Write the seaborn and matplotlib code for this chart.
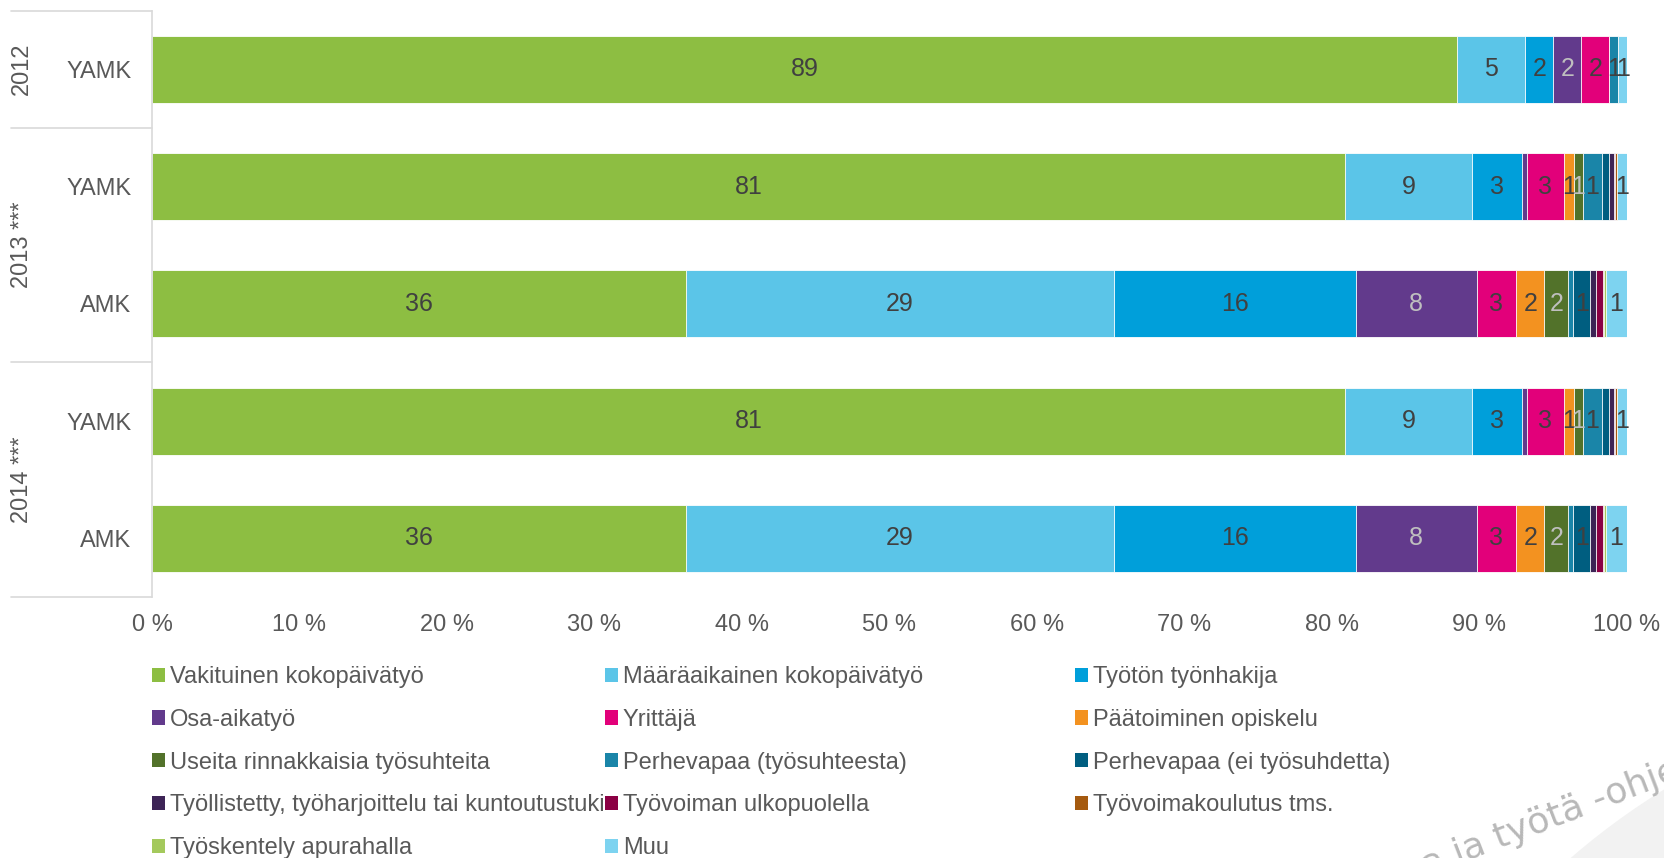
import numpy as np
import pandas as pd
import seaborn as sns
import matplotlib.pyplot as plt
from matplotlib.patches import Rectangle, Ellipse

sns.set_theme(style="white")
plt.rcParams['font.family'] = ['Liberation Sans', 'DejaVu Sans']

# rows top to bottom
groups = ["2012", "2013 ***", "2014 ***"]
group_rows = [[0], [1, 2], [3, 4]]
row_labels = ["YAMK", "YAMK", "AMK", "YAMK", "AMK"]

categories = ["Vakituinen kokopäivätyö", "Määräaikainen kokopäivätyö", "Työtön työnhakija",
              "Osa-aikatyö", "Yrittäjä", "Päätoiminen opiskelu",
              "Useita rinnakkaisia työsuhteita", "Perhevapaa (työsuhteesta)", "Perhevapaa (ei työsuhdetta)",
              "Työllistetty, työharjoittelu tai kuntoutustuki", "Työvoiman ulkopuolella", "Työvoimakoulutus tms.",
              "Työskentely apurahalla", "Muu"]

vakituinen   = [88.5, 80.9, 36.2, 80.9, 36.2]
maaraaik     = [4.6, 8.6, 29.0, 8.6, 29.0]
tyoton       = [1.9, 3.4, 16.4, 3.4, 16.4]
osa_aika     = [1.9, 0.3, 8.2, 0.3, 8.2]
yrittaja     = [1.9, 2.5, 2.7, 2.5, 2.7]
paatoim      = [0.0, 0.7, 1.9, 0.7, 1.9]
useita       = [0.0, 0.6, 1.6, 0.6, 1.6]
perhe_ts     = [0.6, 1.3, 0.35, 1.3, 0.35]
perhe_ei     = [0.0, 0.45, 1.15, 0.45, 1.15]
tyollistetty = [0.0, 0.4, 0.4, 0.4, 0.4]
ulkop        = [0.0, 0.05, 0.45, 0.05, 0.45]
koulutus     = [0.0, 0.1, 0.1, 0.1, 0.1]
apuraha      = [0.0, 0.0, 0.1, 0.0, 0.1]
muu          = [0.6, 0.7, 1.45, 0.7, 1.45]

series = [vakituinen, maaraaik, tyoton, osa_aika, yrittaja, paatoim, useita,
          perhe_ts, perhe_ei, tyollistetty, ulkop, koulutus, apuraha, muu]

colors = ["#8DBE42", "#5BC5E8", "#009FDA", "#623A8C", "#E2007A", "#F39220",
          "#52722A", "#1A85A8", "#005E80", "#3D2456", "#8B0044", "#A55A0F",
          "#A4C95C", "#7DD3F0"]
light_text = {3, 6}

vals = np.array(series).T  # rows x categories
cum = np.cumsum(vals, axis=1)
df = pd.DataFrame(cum, columns=categories)
df["row"] = [str(i) for i in range(len(row_labels))]
order = df["row"].tolist()

fig = plt.figure(figsize=(16.65, 8.58), dpi=100)

# watermark background
fig.add_artist(Ellipse((2040 / 1665, 1 - 1400 / 858), 2 * 717 / 1665, 2 * 717 / 858,
                       transform=fig.transFigure, facecolor="#F2F2F2", edgecolor="none", zorder=0))

ax = fig.add_axes([152/1665, 1-597/858, 1475/1665, (597-10.6)/858])
ax.patch.set_alpha(0)

for i in reversed(range(len(categories))):
    sns.barplot(data=df, x=categories[i], y="row", order=order, orient="h",
                color=colors[i], saturation=1, width=0.57,
                edgecolor="white", linewidth=0.6, ax=ax)

# segment labels
for r in range(vals.shape[0]):
    for c in range(vals.shape[1]):
        v = vals[r, c]
        lab = int(v + 0.5)
        if lab >= 1:
            xc = cum[r, c] - v / 2
            ax.text(xc, r, str(lab), ha="center", va="center", fontsize=18,
                    color="#BFBFBF" if c in light_text else "#404040")

ax.set_xlim(0, 100)
ax.set_ylim(4.5, -0.5)
ax.set_xticks(np.arange(0, 101, 10))
ax.set_xticklabels([f"{t} %" for t in range(0, 101, 10)])
ax.set_yticks(range(5))
ax.set_yticklabels(row_labels)
ax.set_xlabel("")
ax.set_ylabel("")
ax.tick_params(axis="x", length=0, pad=12, labelsize=17, labelcolor="#595959")
ax.tick_params(axis="y", length=0, pad=15, labelsize=17, labelcolor="#595959")
for s in ["top", "right", "bottom"]:
    ax.spines[s].set_visible(False)
ax.spines["left"].set_color("#D9D9D9")
ax.spines["left"].set_linewidth(1.2)

# group separators and labels
trans = ax.get_yaxis_transform()
x0 = (10.6 - 152) / 1475
for b in [-0.5, 0.5, 2.5, 4.5]:
    ax.plot([x0, 0], [b, b], transform=trans, color="#D9D9D9", lw=1.2, clip_on=False)
for g, rows in zip(groups, group_rows):
    yc = np.mean(rows)
    ax.text((22 - 152) / 1475, yc, g, transform=trans, rotation=90, ha="center",
            va="center", fontsize=17, color="#595959")

# legend in three columns laid out row by row
handles = [Rectangle((0, 0), 1, 1, facecolor=c, edgecolor="none") for c in colors]
col_x = [152, 605, 1075]
top = 1 - 666 / 858
for k in range(3):
    idx = list(range(k, len(categories), 3))
    leg = fig.legend([handles[i] for i in idx], [categories[i] for i in idx],
                     loc="upper left", bbox_to_anchor=(col_x[k] / 1665, top),
                     frameon=False, fontsize=17, labelcolor="#595959",
                     handlelength=0.55, handleheight=0.55, handletextpad=0.2,
                     labelspacing=0.88, borderpad=0, borderaxespad=0)

# watermark text
fig.text(1405 / 1665, 1 - 884 / 858, "na ja työtä -ohjelma", rotation=21,
         rotation_mode="anchor", ha="left", va="baseline", family="DejaVu Sans",
         fontsize=26, color="#B8B8B8")

fig.savefig("out.png", dpi=100)
